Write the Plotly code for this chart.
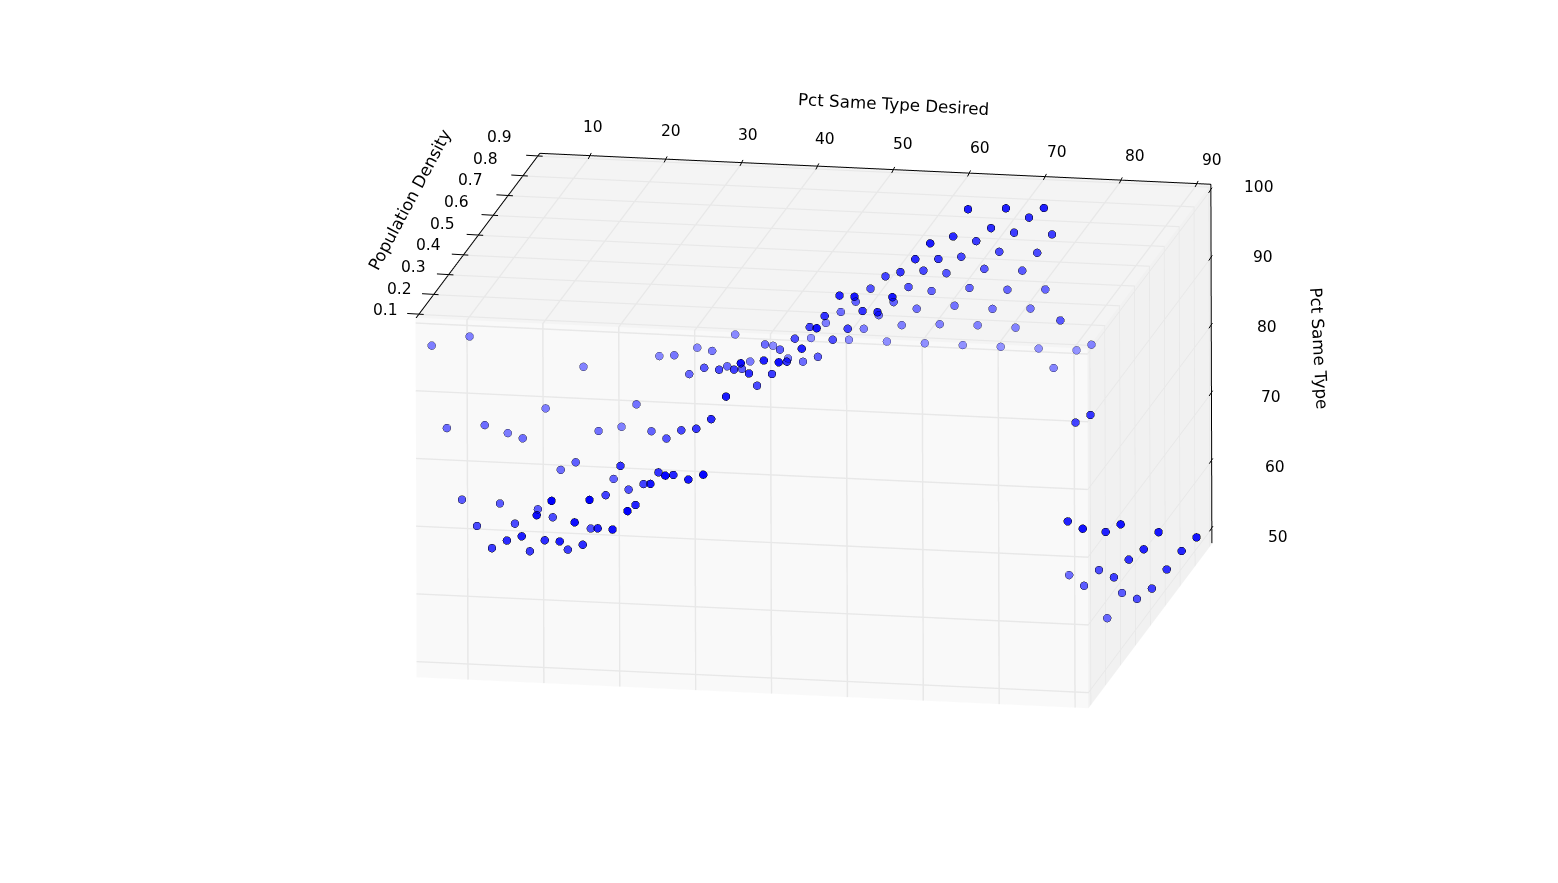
import numpy as np
import plotly.graph_objects as go

pct_desired = [5, 10, 15, 20, 25, 30, 35, 40, 45, 50, 55, 60, 65, 70, 75, 80, 85, 90]
density = [0.1, 0.2, 0.3, 0.4, 0.5, 0.6, 0.7, 0.8, 0.9]
z5 = [96.3, 81.2, 67.7, 60.9, 54.7, 52.9, 50.6, 50.8, 50.0]
z10 = [97.9, 81.9, 67.4, 61.5, 54.5, 53.2, 50.1, 50.0, 50.4]
z15 = [83.9, 80.2, 66.8, 62.7, 55.0, 52.8, 52.3, 49.2, 49.0]
z20 = [87.8, 75.8, 74.0, 61.3, 63.3, 64.7, 56.0, 56.2, 54.5]
z25 = [94.2, 81.8, 71.8, 67.3, 65.2, 64.0, 60.7, 57.1, 54.9]
z30 = [85.6, 86.0, 79.1, 75.1, 73.4, 70.7, 69.2, 69.6, 71.6]
z35 = [96.3, 93.5, 87.8, 85.8, 82.6, 79.7, 76.2, 75.2, 72.0]
z40 = [97.8, 94.4, 89.2, 85.9, 80.5, 79.3, 78.2, 77.2, 77.3]
z45 = [100.0, 93.1, 92.7, 89.0, 87.7, 86.5, 85.2, 85.3, 82.2]
z50 = [98.6, 93.8, 90.4, 88.2, 87.8, 86.5, 86.2, 83.1, 82.4]
z55 = [100.0, 99.3, 98.0, 96.6, 95.6, 94.5, 92.2, 91.2, 90.6]
z60 = [100.0, 98.7, 97.8, 96.8, 96.1, 95.6, 94.4, 94.8, 95.9]
z65 = [100.0, 99.5, 99.0, 98.7, 98.4, 97.9, 97.3, 96.3, 96.3]
z70 = [100.0, 99.9, 99.7, 99.4, 99.3, 98.9, 98.8, 98.1, 96.6]
z75 = [100.0, 100.0, 99.5, 99.4, 99.3, 99.0, 98.8, 53.5, 49.5]
z80 = [100.0, 99.9, 99.8, 99.7, 92.2, 74.2, 72.4, 52.2, 50.4]
z85 = [100.0, 94.2, 60.7, 56.2, 55.6, 51.6, 51.3, 49.9, 49.5]
z90 = [100.0, 97.9, 54.6, 55.4, 51.6, 50.2, 50.1, 49.9, 49.0]
pct_same = [z5, z10, z15, z20, z25, z30, z35, z40, z45, z50, z55, z60, z65, z70, z75, z80, z85, z90]
x_ticks = [10, 20, 30, 40, 50, 60, 70, 80, 90]
y_ticks = [0.1, 0.2, 0.3, 0.4, 0.5, 0.6, 0.7, 0.8, 0.9]
z_ticks = [50, 60, 70, 80, 90, 100]

xs, ys, zs = [], [], []
for xv, col in zip(pct_desired, pct_same):
    for yv, zv in zip(density, col):
        xs.append(xv); ys.append(yv); zs.append(zv)
xs, ys, zs = map(np.array, (xs, ys, zs))

xr, yr, zr = [3.23, 91.77], [0.9167, 0.0833], [47.7, 100.8]
aspect = np.array([1.619, 1.560, 0.880])
eye = np.array([-0.1826, -0.9499, -0.2543]) * 2.0
up = np.array([-0.0453, -0.2503, 0.9672])

nx = (xs - xr[0]) / (xr[1] - xr[0]) - .5
ny = (ys - yr[0]) / (yr[1] - yr[0]) - .5
nz = (zs - zr[0]) / (zr[1] - zr[0]) - .5
depth = nx * aspect[0] * eye[0] + ny * aspect[1] * eye[1] + nz * aspect[2] * eye[2]
t = (depth - depth.min()) / (depth.max() - depth.min())
alpha = 0.4 + 0.6 * t
fill = [f"rgba(0,0,255,{a:.3f})" for a in alpha]
edge = [f"rgba(0,0,0,{min(1, a + 0.2):.3f})" for a in alpha]

fig = go.Figure()
fig.add_trace(go.Scatter3d(x=xs, y=ys, z=zs, mode="markers",
    marker=dict(size=4.6, color=fill, line=dict(width=4, color=edge))))
ex0, ex1 = xr[0] + 0.05, xr[1] - 0.05
ey1, ez1, ez0 = yr[0] - 0.001, zr[1] - 0.05, zr[0] + 0.05
edges = [([ex0, ex1], [ey1, ey1], [ez1, ez1]),
         ([ex0, ex0], [yr[1], ey1], [ez1, ez1]),
         ([ex1, ex1], [ey1, ey1], [ez0, ez1])]
for ex, ey, ez in edges:
    fig.add_trace(go.Scatter3d(x=ex, y=ey, z=ez, mode="lines", line=dict(color="black", width=2), hoverinfo="skip"))

ann = []
def mark(x, y, z, ax, ay):
    ann.append(dict(x=x, y=y, z=z, text=" ", font=dict(size=1), borderpad=0, showarrow=True, arrowhead=0,
                    arrowwidth=1, arrowcolor="black", ax=ax, ay=ay, standoff=0))
def label(x, y, z, text, dx, dy, angle=0, size=15.5):
    ann.append(dict(x=x, y=y, z=z, text=text, showarrow=False, xshift=dx, yshift=dy, textangle=angle,
                    font=dict(size=size, color="black", family="DejaVu Sans")))
for i, v in enumerate(x_ticks):
    mark(v, 0.897, zr[1], 3.5, -7)
    label(v, yr[0], zr[1], str(v), 2 + 12 * i / 8, 28 - 5 * i / 8)
for i, v in enumerate(y_ticks):
    mark(xr[0] + 0.7, v, zr[1], -17, -1)
    label(xr[0], v, zr[1], str(v), -33 - 5 * i / 8, 4 + 15 * i / 8)
for v in z_ticks:
    f = (100 - v) / 50
    mark(xr[1], 0.897, v, 4, -6)
    label(xr[1], yr[0], v, str(v), 48 + 18 * f, 2 - 12 * f)
label(47.5, yr[0], zr[1], "Pct Same Type Desired", 18, 64, 3, 16.7)
label(xr[0], 0.5, zr[1], "Population Density", -68, 36, -62, 16.7)
label(xr[1], yr[0], 74.25, "Pct Same Type", 107, 15, 87, 16.7)

def ax(rng, bg, tickvals):
    return dict(title=dict(text=""), range=rng, tickmode="array", tickvals=tickvals, showticklabels=False,
                showbackground=True, backgroundcolor=bg, gridcolor="#e8e8e8", gridwidth=3,
                showline=False, ticks="", zeroline=False, showspikes=False)

fig.update_layout(
    width=1558, height=883, margin=dict(l=0, r=0, t=0, b=0),
    paper_bgcolor="white", showlegend=False,
    scene=dict(
        domain=dict(x=[0.0349, 1], y=[0.0436, 1]),
        aspectmode="manual", aspectratio=dict(x=aspect[0], y=aspect[1], z=aspect[2]),
        camera=dict(eye=dict(x=eye[0], y=eye[1], z=eye[2]), up=dict(x=up[0], y=up[1], z=up[2]),
                    center=dict(x=0, y=0, z=0), projection=dict(type="orthographic")),
        xaxis=ax(xr, "#f1f1f1", x_ticks),
        yaxis=ax(yr, "#f9f9f9", y_ticks),
        zaxis=ax(zr, "#f4f4f4", z_ticks),
        annotations=ann,
    ))
fig.write_html("out.html")
